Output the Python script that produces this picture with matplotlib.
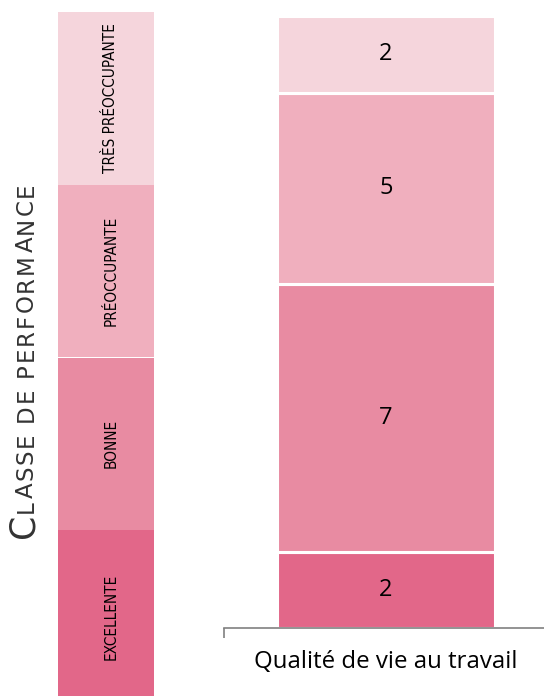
import matplotlib
matplotlib.use("Agg")
import matplotlib.pyplot as plt

classes = ["EXCELLENTE", "BONNE", "PRÉOCCUPANTE", "TRÈS PRÉOCCUPANTE"]
counts = [2, 7, 5, 2]
colors = ["#E26789", "#E88BA2", "#F0AFBE", "#F5D5DC"]
category = "Qualité de vie au travail"
title_big = "C"
title_rest = "LASSE DE PERFORMANCE"

W, H = 544, 696
fig = plt.figure(figsize=(W / 100, H / 100), dpi=100)
sans = ["Open Sans", "DejaVu Sans"]


def px_axes(x0, y0, x1, y1):
    # pixel box (top-left origin) -> figure axes
    return fig.add_axes([x0 / W, 1 - y1 / H, (x1 - x0) / W, (y1 - y0) / H])


# stacked bar
ax = px_axes(224, 16, 548, 628)
bottom = 0
for v, c in zip(counts, colors):
    ax.bar([0], [v], bottom=bottom, width=0.673, color=c, edgecolor="white", linewidth=2.2)
    ax.text(0, bottom + v / 2, str(v), ha="center", va="center",
            fontsize=17, family=sans, color="black")
    bottom += v
ax.set_xlim(-0.5, 0.5)
ax.set_ylim(0, sum(counts))
for s in ["top", "right", "left"]:
    ax.spines[s].set_visible(False)
ax.spines["bottom"].set_color("#808080")
ax.spines["bottom"].set_linewidth(1.2)
ax.set_yticks([])
ax.set_xticks([-0.5, 0.5])
ax.set_xticklabels([])
ax.tick_params(axis="x", length=7, color="#808080", width=1.2)
ax.set_xlabel(category, fontsize=17.3, family=sans)
ax.xaxis.set_label_coords(0.5, -0.036)

# legend column
lax = px_axes(58, 12, 154, 703)
for i, (lab, c) in enumerate(zip(classes, colors)):
    lax.bar([0], [1], bottom=i, width=1, color=c, linewidth=0)
    lax.text(0.05, i + 0.5, lab, rotation=90, ha="center", va="center", fontsize=11,
             family=["DejaVu Sans"], stretch="condensed", color="black")
lax.set_xlim(-0.5, 0.5)
lax.set_ylim(0, len(classes))
lax.axis("off")

# small-caps title, spaced out letter by letter
fig.canvas.draw()
r = fig.canvas.get_renderer()
xb = 33 / W
y_start, y_end = 538, 183  # pixel rows (top origin)
kw = dict(rotation=90, rotation_mode="anchor", ha="left", va="baseline",
          family=["DejaVu Sans"], color="#333333")
t1 = fig.text(xb, 1 - y_start / H, title_big, fontsize=25, **kw)
cy = t1.get_window_extent(r).y1 + 1
chars = [fig.text(xb, 0, ch, fontsize=16.5, **kw) if ch != " " else None for ch in title_rest]
sizes = [c.get_window_extent(r).height if c is not None else 0 for c in chars]
gap_space = 7
total = (H - y_end) - cy
n_gaps = len(title_rest) - 1
track = (total - sum(sizes) - gap_space * title_rest.count(" ")) / n_gaps
for c, s in zip(chars, sizes):
    if c is None:
        cy += gap_space + track
        continue
    c.set_position((xb, cy / H))
    cy += s + track

fig.savefig("out.png", dpi=100)
